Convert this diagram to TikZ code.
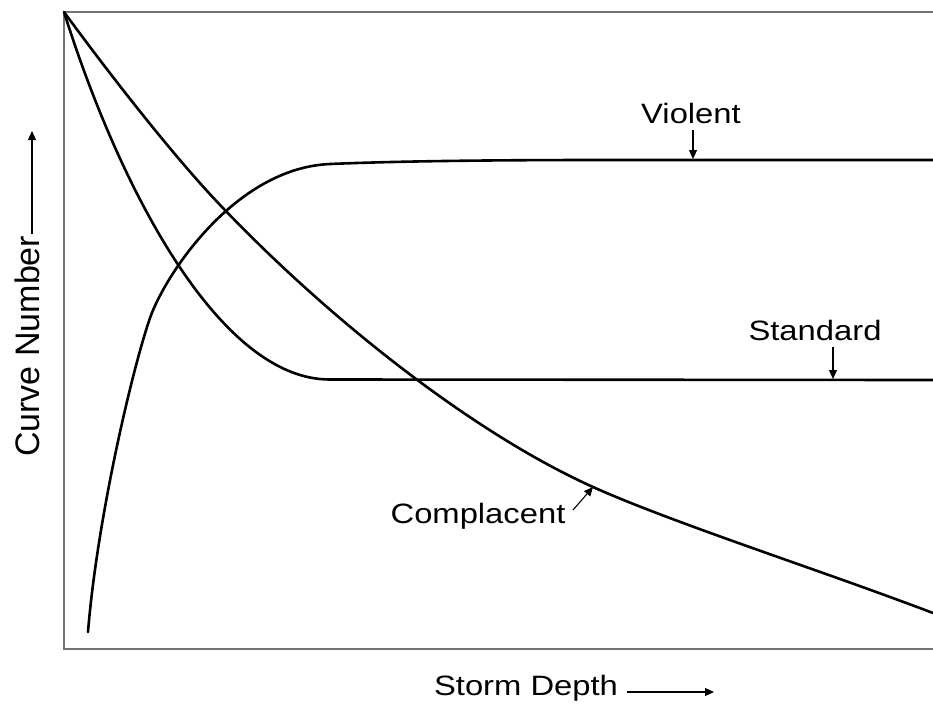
\documentclass[tikz,border=0pt]{standalone}
\usepackage{fontspec}
\setmainfont{Liberation Sans}
\usetikzlibrary{arrows.meta}
\tikzset{
  axisline/.style={draw=black!55, line width=1.1pt},
  curve/.style={draw=black, line width=2.6pt, line cap=round, line join=round},
  ptr/.style={draw=black, line width=1.1pt, -{Triangle[length=9pt,width=8pt]}},
  lbl/.style={inner sep=0pt, font=\fontsize{28}{34}\selectfont},
  vlbl/.style={inner sep=0pt, font=\fontsize{34}{40}\selectfont, rotate=90}
}
\newcommand{\hstretch}[1]{\scalebox{1.17}[1]{#1}}
\begin{document}
\begin{tikzpicture}[x=1pt,y=-1pt]
\useasboundingbox[fill=white] (0,0) rectangle (933,704);
% axes frame
\coordinate (tl) at (64,12);
\coordinate (tr) at (933,12);
\coordinate (bl) at (64,649);
\coordinate (br) at (933,649);
\draw[axisline] (tr) -- (tl) -- (bl) -- (br);
% Standard curve
\draw[curve] (tl) .. controls (120,190) and (220,380) .. (330,379.5) -- (933,380);
% Complacent curve
\draw[curve] (tl) .. controls (105,68) and (172,155) .. (222,207)
  .. controls (330,320) and (473,433) .. (593,487)
  .. controls (673,523) and (820,570) .. (933,613);
% Violent curve
\draw[curve] (88,632) .. controls (97,520) and (132,370) .. (150,318)
  .. controls (165,275) and (235,168) .. (330,164)
  .. controls (400,161) and (500,160) .. (600,160) -- (933,160);
% labels
\node[lbl, anchor=base] (violent) at (691,123) {\hstretch{Violent}};
\node[lbl, anchor=base] (standard) at (815,340) {\hstretch{Standard}};
\node[lbl, anchor=base] (complacent) at (478,523) {\hstretch{Complacent}};
\node[lbl, anchor=base] (xlab) at (526,695) {\hstretch{Storm Depth}};
\node[vlbl, anchor=base west] (ylab) at (39,457) {Curve Number};
% pointer arrows
\coordinate (va) at (693,130);
\coordinate (vb) at (693,159);
\coordinate (sa) at (833,347);
\coordinate (sb) at (833,379);
\coordinate (ca) at (573,510);
\coordinate (cb) at (593,487);
\draw[ptr] (va) -- (vb);
\draw[ptr] (sa) -- (sb);
\draw[ptr] (ca) -- (cb);
% axis direction arrows
\coordinate (xa) at (627,692);
\coordinate (xb) at (714,692);
\coordinate (ya) at (32,234);
\coordinate (yb) at (32,131);
\draw[ptr] (xa) -- (xb);
\draw[ptr] (ya) -- (yb);
\end{tikzpicture}
\end{document}
